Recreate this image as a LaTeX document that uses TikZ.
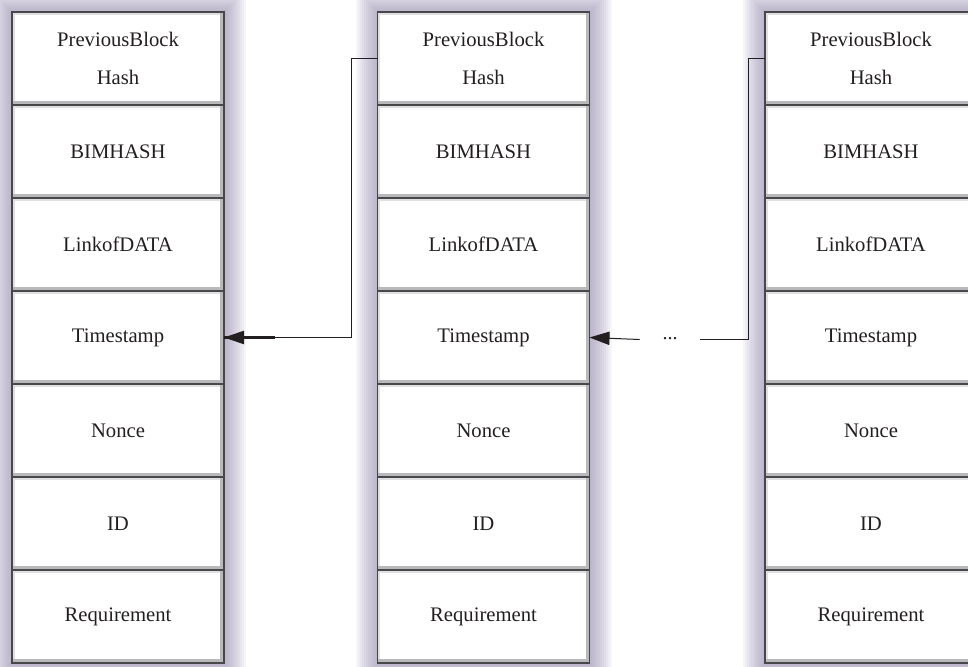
\documentclass[tikz,border=0pt]{standalone}
\usepackage{fontspec}
\setmainfont{Liberation Serif}
\usetikzlibrary{positioning,arrows.meta}

\definecolor{glowc}{RGB}{140,128,168}
\definecolor{edgec}{RGB}{72,72,75}
\definecolor{bevelc}{RGB}{185,185,188}
\definecolor{txtc}{RGB}{35,31,32}

\tikzset{
  field/.style={draw=edgec, line width=1.1pt, fill=white, inner sep=0pt, outer sep=0pt,
    minimum width=159pt, minimum height=69.75pt, align=center, text=txtc,
    font=\fontsize{15.5}{28.5}\selectfont,
    path picture={
      \draw[black!12, line width=4pt] (path picture bounding box.south west) -- (path picture bounding box.north west) -- (path picture bounding box.north east);
      \draw[bevelc, line width=6pt] (path picture bounding box.south west) -- (path picture bounding box.south east) -- (path picture bounding box.north east);
    }},
  glow/.style={fill=glowc, opacity=0.075},
  link/.style={draw=txtc, line width=0.75pt},
  tip/.style={-{Triangle[length=15pt,width=10pt]}}
}

\begin{document}
\begin{tikzpicture}[x=0.75pt,y=0.75pt,yscale=-1,xscale=1]
\useasboundingbox (0,0) rectangle (968,667);

%Shape: glow round the columns
\foreach \cx in {118,483.5,871}
  \foreach \g in {1,...,11}
    \fill[glow] (\cx-106-2*\g,12-2*\g) rectangle (\cx+106+2*\g,663+2*\g);

% left block
\node[field] (l1) at (118,58.5) {PreviousBlock\\Hash};
\node[field, below=0pt of l1] (l2) {BIMHASH};
\node[field, below=0pt of l2] (l3) {LinkofDATA};
\node[field, below=0pt of l3] (l4) {Timestamp};
\node[field, below=0pt of l4] (l5) {Nonce};
\node[field, below=0pt of l5] (l6) {ID};
\node[field, below=0pt of l6] (l7) {Requirement};

% middle block
\node[field] (m1) at (483.5,58.5) {PreviousBlock\\Hash};
\node[field, below=0pt of m1] (m2) {BIMHASH};
\node[field, below=0pt of m2] (m3) {LinkofDATA};
\node[field, below=0pt of m3] (m4) {Timestamp};
\node[field, below=0pt of m4] (m5) {Nonce};
\node[field, below=0pt of m5] (m6) {ID};
\node[field, below=0pt of m6] (m7) {Requirement};

% right block
\node[field] (r1) at (871,58.5) {PreviousBlock\\Hash};
\node[field, below=0pt of r1] (r2) {BIMHASH};
\node[field, below=0pt of r2] (r3) {LinkofDATA};
\node[field, below=0pt of r3] (r4) {Timestamp};
\node[field, below=0pt of r4] (r5) {Nonce};
\node[field, below=0pt of r5] (r6) {ID};
\node[field, below=0pt of r6] (r7) {Requirement};

% Text Node
\node[inner sep=0pt, minimum width=45pt, text=txtc, font=\fontsize{15}{18}\selectfont] (dots) at (670,339.5) {\raisebox{2pt}{...}};

%Straight Lines
\draw[line width=2.2pt, txtc] (l4.east) -- ++(51,0);
\draw[link, tip] (m1.west) -- ++(-26,0) |- (l4.east);
%Straight Lines
\draw[link] (r1.west) -- ++(-17,0) |- (dots.east);
\draw[link, tip] (dots.west) -- (m4.east);

\end{tikzpicture}
\end{document}
